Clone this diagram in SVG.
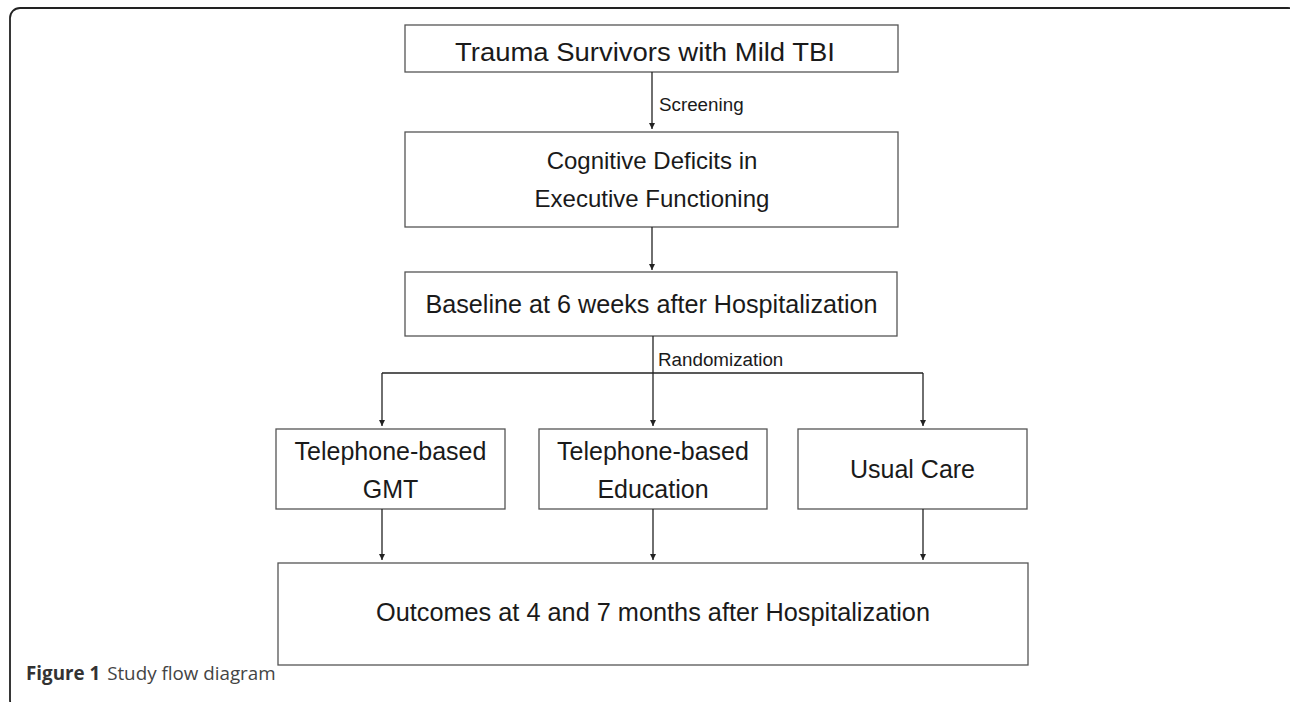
<svg xmlns="http://www.w3.org/2000/svg" width="1290" height="702" viewBox="0 0 1290 702">
<style>
.box{fill:#fff;stroke:#555;stroke-width:1.3}
.t{font-family:"Liberation Sans",Arial,sans-serif;fill:#1a1a1a;text-anchor:middle}
.lbl{font-family:"Liberation Sans",Arial,sans-serif;fill:#1a1a1a;font-size:18.8px}
.c{stroke:#222;stroke-width:1.3;fill:none}
.ca{stroke:#222;stroke-width:1.3;fill:none;marker-end:url(#ah)}
</style>
<defs>
<marker id="ah" markerUnits="userSpaceOnUse" markerWidth="8" markerHeight="8" refX="6" refY="3" orient="auto">
<path d="M0,0 L6,3 L0,6 Z" fill="#222"/>
</marker>
</defs>
<rect x="10" y="8" width="1288" height="702" rx="10" ry="10" fill="#fff" stroke="#222" stroke-width="1.8"/>

<g id="n1"><rect class="box" x="405" y="25" width="493" height="47"/><text class="t" x="645" y="61" font-size="25.5" textLength="380" lengthAdjust="spacingAndGlyphs">Trauma Survivors with Mild TBI</text></g>
<g id="n2"><rect class="box" x="405" y="132" width="493" height="95"/><text class="t" x="652" y="169" font-size="24">Cognitive Deficits in</text><text class="t" x="652" y="207" font-size="24">Executive Functioning</text></g>
<g id="n3"><rect class="box" x="405" y="272" width="492" height="64"/><text class="t" x="651.5" y="313" font-size="25.2">Baseline at 6 weeks after Hospitalization</text></g>
<g id="n4"><rect class="box" x="276" y="429" width="229" height="80"/><text class="t" x="390.5" y="460" font-size="25">Telephone-based</text><text class="t" x="390.5" y="498" font-size="25">GMT</text></g>
<g id="n5"><rect class="box" x="539" y="429" width="228" height="80"/><text class="t" x="653" y="460" font-size="25">Telephone-based</text><text class="t" x="653" y="498" font-size="25">Education</text></g>
<g id="n6"><rect class="box" x="798" y="429" width="229" height="80"/><text class="t" x="912.5" y="478" font-size="25">Usual Care</text></g>
<g id="n7"><rect class="box" x="278" y="563" width="750" height="102"/><text class="t" x="653" y="621" font-size="25.3">Outcomes at 4 and 7 months after Hospitalization</text></g>

<g id="connectors">
<line class="ca" x1="652" y1="72" x2="652" y2="129"/>
<text class="lbl" x="659" y="111">Screening</text>
<line class="ca" x1="652" y1="227" x2="652" y2="270"/>
<line class="ca" x1="653" y1="336" x2="653" y2="426"/>
<text class="lbl" x="658" y="366">Randomization</text>
<line class="c" x1="382" y1="373" x2="923" y2="373"/>
<line class="ca" x1="382" y1="373" x2="382" y2="426"/>
<line class="ca" x1="923" y1="373" x2="923" y2="426"/>
<line class="ca" x1="382" y1="509" x2="382" y2="560"/>
<line class="ca" x1="653" y1="509" x2="653" y2="560"/>
<line class="ca" x1="923" y1="509" x2="923" y2="560"/>
</g>

<text x="26" y="680" font-family="'Open Sans','Noto Sans',sans-serif" font-size="18.8" fill="#333"><tspan font-weight="bold">Figure 1</tspan><tspan fill="#444" dx="2"> Study flow diagram</tspan></text>
</svg>
